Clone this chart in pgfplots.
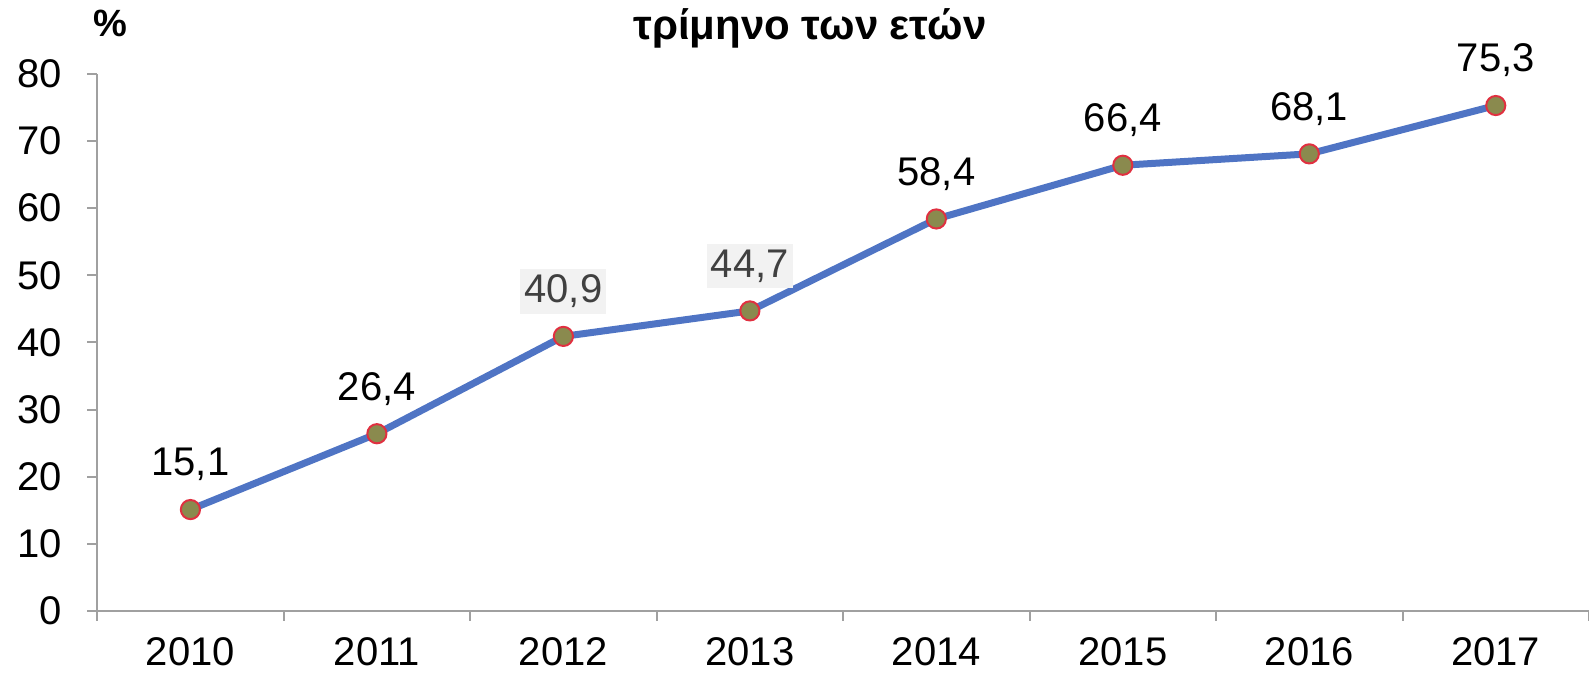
\documentclass[border=0pt]{standalone}
\usepackage{fontspec}
\setmainfont{Liberation Sans}
\usepackage{pgfplots}
\pgfplotsset{compat=1.18}
\usetikzlibrary{calc}

\definecolor{lineblue}{HTML}{4F74C4}
\definecolor{mkfill}{HTML}{8A8A4E}
\definecolor{mkred}{HTML}{E03040}
\definecolor{axgray}{HTML}{A0A0A0}
\definecolor{lblgray}{HTML}{404040}
\definecolor{lblbg}{HTML}{F2F2F2}

\begin{document}
\begin{tikzpicture}
\begin{axis}[
    name=ax,
    scale only axis,
    width=746pt, height=268.5pt,
    xmin=-0.5, xmax=7.5,
    ymin=0, ymax=80,
    axis lines*=left,
    axis line style={axgray, line width=1pt},
    xtick={-0.5,0.5,...,7.5},
    x tick label as interval,
    xticklabels={2010,2011,2012,2013,2014,2015,2016,2017},
    ytick={0,10,...,80},
    tick align=outside,
    major tick length=5pt,
    tick style={axgray, line width=1pt},
    font=\fontsize{20}{24}\selectfont,
    /pgf/number format/assume math mode=true,
    xticklabel style={yshift=-8pt, inner ysep=0pt},
    yticklabel style={xshift=-9pt},
    clip=false,
]
% line with markers
\addplot[lineblue, line width=3.5pt, line join=round,
    mark=*, mark size=4.8pt,
    mark options={fill=mkfill, draw=mkred, line width=1pt}]
    coordinates {
    (0,15.1) (1,26.4) (2,40.9) (3,44.7) (4,58.4) (5,66.4) (6,68.1) (7,75.3)
};
% plain labels
\addplot[draw=none, mark=none, nodes near coords, point meta=explicit symbolic,
    nodes near coords style={anchor=center, yshift=22.5pt, black}]
    coordinates {
    (0,15.1) [15,1]
    (1,26.4) [26,4]
    (4,58.4) [58,4]
    (5,66.4) [66,4]
    (6,68.1) [68,1]
    (7,75.3) [75,3]
};
% boxed labels
\addplot[draw=none, mark=none, nodes near coords, point meta=explicit symbolic,
    nodes near coords style={anchor=center, yshift=22.5pt, text=lblgray,
        fill=lblbg, inner xsep=2pt, inner ysep=3pt}]
    coordinates {
    (2,40.9) [40,9]
    (3,44.7) [44,7]
};
\end{axis}
\node[font=\fontsize{21}{25}\selectfont\bfseries] at ($(ax.north west)+(356.4pt,22.8pt)$) {τρίμηνο των ετών};
\node[font=\fontsize{19}{23}\selectfont\bfseries] at ($(ax.north west)+(6.6pt,25.5pt)$) {\%};
\pgfresetboundingbox
\path ($(ax.south west)+(-48.6pt,-32pt)$) rectangle ($(ax.north east)+(0pt,37pt)$);
\end{tikzpicture}
\end{document}
